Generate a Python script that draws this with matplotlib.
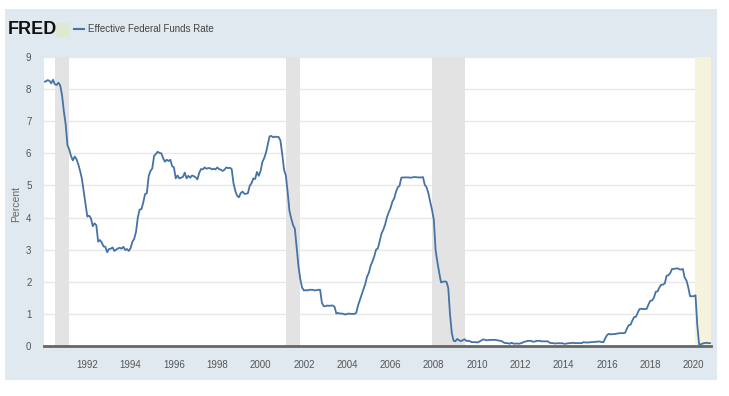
import matplotlib
matplotlib.use("Agg")
import matplotlib.pyplot as plt
from matplotlib.patches import Rectangle
from matplotlib.lines import Line2D
import numpy as np

plt.rcParams['font.family'] = ['Liberation Sans Narrow', 'Liberation Sans', 'DejaVu Sans']

title = "Effective Federal Funds Rate"
y_label = "Percent"
start_year = 1990
rates = [
    8.23, 8.24, 8.28, 8.26, 8.18, 8.29, 8.15, 8.13, 8.20, 8.11, 7.81, 7.31,
    6.91, 6.25, 6.12, 5.91, 5.78, 5.90, 5.82, 5.66, 5.45, 5.21, 4.81, 4.43,
    4.03, 4.06, 3.98, 3.73, 3.82, 3.76, 3.25, 3.30, 3.22, 3.10, 3.09, 2.92,
    3.02, 3.03, 3.07, 2.96, 3.00, 3.04, 3.06, 3.03, 3.09, 2.99, 3.02, 2.96,
    3.05, 3.25, 3.34, 3.56, 4.01, 4.25, 4.26, 4.47, 4.73, 4.76, 5.29, 5.45,
    5.53, 5.92, 5.98, 6.05, 6.01, 6.00, 5.85, 5.74, 5.80, 5.76, 5.80, 5.60,
    5.56, 5.22, 5.31, 5.22, 5.24, 5.27, 5.40, 5.22, 5.30, 5.24, 5.31, 5.29,
    5.25, 5.19, 5.39, 5.51, 5.50, 5.56, 5.52, 5.54, 5.54, 5.50, 5.52, 5.50,
    5.56, 5.51, 5.49, 5.45, 5.49, 5.56, 5.54, 5.55, 5.51, 5.07, 4.83, 4.68,
    4.63, 4.76, 4.81, 4.74, 4.74, 4.76, 4.99, 5.07, 5.22, 5.20, 5.42, 5.30,
    5.45, 5.73, 5.85, 6.02, 6.27, 6.53, 6.54, 6.50, 6.52, 6.51, 6.51, 6.40,
    5.98, 5.49, 5.31, 4.80, 4.21, 3.97, 3.77, 3.65, 3.07, 2.49, 2.09, 1.82,
    1.73, 1.74, 1.73, 1.75, 1.75, 1.75, 1.73, 1.74, 1.75, 1.75, 1.34, 1.24,
    1.24, 1.26, 1.25, 1.26, 1.26, 1.22, 1.01, 1.03, 1.01, 1.01, 1.00, 0.98,
    1.00, 1.01, 1.00, 1.00, 1.00, 1.03, 1.26, 1.43, 1.61, 1.76, 1.93, 2.16,
    2.28, 2.50, 2.63, 2.79, 3.00, 3.04, 3.26, 3.50, 3.62, 3.78, 4.00, 4.16,
    4.29, 4.49, 4.59, 4.79, 4.94, 4.99, 5.24, 5.25, 5.25, 5.25, 5.25, 5.24,
    5.25, 5.26, 5.26, 5.25, 5.25, 5.25, 5.26, 5.02, 4.94, 4.76, 4.49, 4.24,
    3.94, 2.98, 2.61, 2.28, 1.98, 2.00, 2.01, 2.00, 1.81, 0.97, 0.39, 0.16,
    0.15, 0.22, 0.18, 0.15, 0.18, 0.21, 0.16, 0.16, 0.15, 0.12, 0.12, 0.12,
    0.11, 0.13, 0.16, 0.20, 0.20, 0.18, 0.18, 0.19, 0.19, 0.19, 0.19, 0.18,
    0.17, 0.16, 0.14, 0.10, 0.09, 0.09, 0.07, 0.10, 0.08, 0.07, 0.08, 0.07,
    0.08, 0.10, 0.13, 0.14, 0.16, 0.16, 0.16, 0.13, 0.14, 0.16, 0.16, 0.16,
    0.14, 0.15, 0.14, 0.15, 0.11, 0.09, 0.09, 0.08, 0.08, 0.09, 0.08, 0.09,
    0.07, 0.07, 0.08, 0.09, 0.09, 0.10, 0.09, 0.09, 0.09, 0.09, 0.09, 0.12,
    0.11, 0.11, 0.11, 0.12, 0.12, 0.13, 0.13, 0.14, 0.14, 0.12, 0.12, 0.24,
    0.34, 0.38, 0.36, 0.37, 0.37, 0.38, 0.39, 0.40, 0.40, 0.40, 0.41, 0.54,
    0.65, 0.66, 0.79, 0.90, 0.91, 1.04, 1.15, 1.16, 1.15, 1.15, 1.16, 1.30,
    1.41, 1.42, 1.51, 1.69, 1.70, 1.82, 1.91, 1.91, 1.95, 2.19, 2.20, 2.27,
    2.40, 2.40, 2.41, 2.42, 2.39, 2.38, 2.40, 2.13, 2.04, 1.83, 1.55, 1.55,
    1.55, 1.58, 0.65, 0.05, 0.05, 0.08, 0.09, 0.10, 0.09, 0.09,
]
recessions = [(1990.5, 1991.17), (2001.17, 2001.83), (2007.92, 2009.42)]
current_recession_start = 2020.08
x_ticks = list(range(1992, 2021, 2))
y_ticks = list(range(0, 10))

W, H = 729, 396
fig = plt.figure(figsize=(W / 100, H / 100), dpi=100, facecolor="white")

# light panel background
fig.patches.append(Rectangle((5 / W, 1 - 380 / H), 712 / W, 371 / H,
                             transform=fig.transFigure, facecolor="#e1e9f0",
                             edgecolor="none", zorder=-10))

ax = fig.add_axes([44 / W, 1 - 346 / H, 667 / W, 289 / H])
ax.set_zorder(1)
ax.set_facecolor("white")

x = start_year + np.arange(len(rates)) / 12.0
xmin, xmax = 1990.0, 2020.8

for s, e in recessions:
    ax.axvspan(s, e, color="#e3e3e3", lw=0, zorder=1)
ax.axvspan(current_recession_start, xmax, color="#f5f3dc", lw=0, zorder=1)

ax.plot(x, rates, color="#4572a7", lw=1.3, zorder=3)

ax.set_xlim(xmin, xmax)
ax.set_ylim(0, 9)
ax.set_xticks(x_ticks)
ax.set_yticks(y_ticks)
ax.yaxis.grid(True, color="#e8e8e8", lw=1)
ax.set_axisbelow(True)
for s in ["top", "right", "left"]:
    ax.spines[s].set_visible(False)
ax.spines["bottom"].set_color("#666666")
ax.spines["bottom"].set_linewidth(2)
ax.spines["bottom"].set_zorder(4)
ax.tick_params(axis="both", length=0, labelsize=7, labelcolor="#555555")
ax.tick_params(axis="x", pad=10)
ax.tick_params(axis="y", pad=9)
ax.set_ylabel(y_label, fontsize=7.5, color="#666666")
ax.yaxis.set_label_coords(-0.034, 0.49)

# FRED header
fig.text(8 / W, 1 - 29 / H, "FRED", fontsize=13, fontweight="bold",
         color="#111111", va="center", ha="left", family=["Liberation Sans", "DejaVu Sans"])
# small icon
fig.patches.append(Rectangle((56 / W, 1 - 37 / H), 14 / W, 14 / H,
                             transform=fig.transFigure, facecolor="#dfe9d2",
                             edgecolor="none", zorder=2))
fig.lines.append(Line2D([57 / W, 61 / W, 64 / W, 69 / W],
                        [1 - 35 / H, 1 - 30 / H, 1 - 32 / H, 1 - 24 / H],
                        transform=fig.transFigure, color="#8fb07a", lw=1.2))
fig.lines.append(Line2D([74 / W, 84 / W], [1 - 29 / H, 1 - 29 / H],
                        transform=fig.transFigure, color="#4572a7", lw=1.5))
fig.text(88 / W, 1 - 29 / H, title, fontsize=7, color="#444444",
         va="center", ha="left")

fig.savefig("out.png", dpi=100, facecolor="white")
